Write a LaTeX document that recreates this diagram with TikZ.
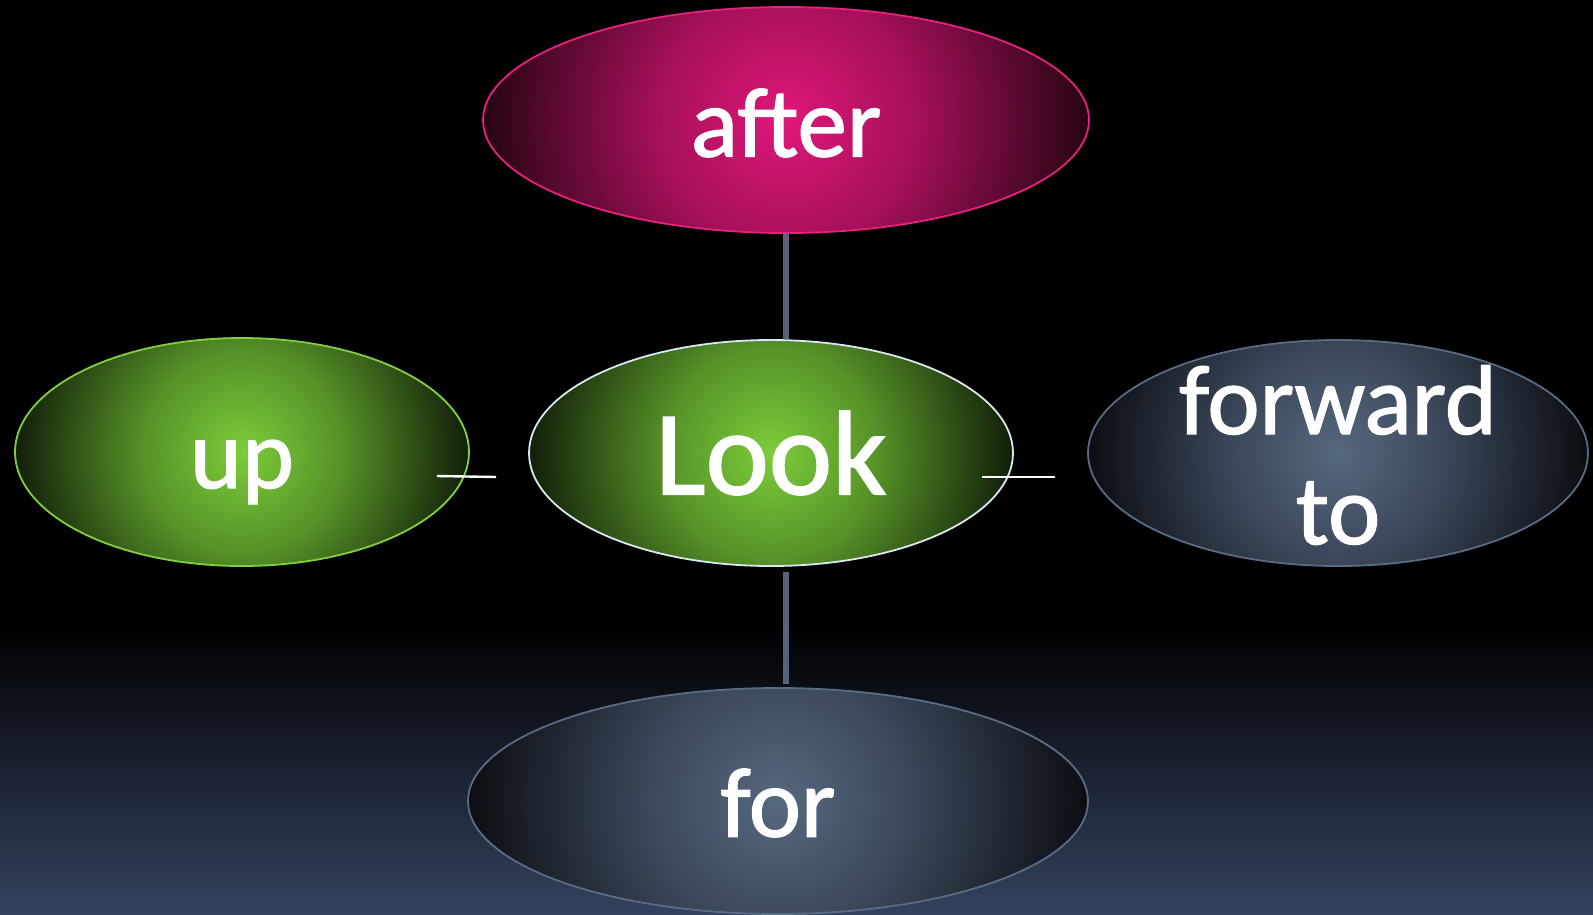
\documentclass[tikz,border=0pt]{standalone}
\usepackage{fontspec}
\setmainfont{Carlito}[FakeBold=1.3]
\usetikzlibrary{shapes.geometric}
\definecolor{bgbot}{HTML}{34425F}
\definecolor{pinkb}{HTML}{E8207F}
\definecolor{greenb}{HTML}{80D040}
\definecolor{lookb}{HTML}{D8E8F0}
\definecolor{slateb}{HTML}{5A6C85}
\definecolor{conn}{HTML}{56647A}
\definecolor{pinkc}{HTML}{E0177A}
\definecolor{pinkm}{HTML}{A31058}
\definecolor{pinke}{HTML}{260412}
\definecolor{greenc}{HTML}{7CCC3A}
\definecolor{greenm}{HTML}{569228}
\definecolor{greene}{HTML}{121E09}
\definecolor{slatec}{HTML}{56687F}
\definecolor{slatem}{HTML}{3A4658}
\definecolor{slatee}{HTML}{0B0D11}
\pgfdeclareradialshading{pinkshade}{\pgfpoint{0bp}{0bp}}{%
  color(0bp)=(pinkc); color(11bp)=(pinkm); color(25bp)=(pinke); color(50bp)=(pinke)}
\pgfdeclareradialshading{greenshade}{\pgfpoint{0bp}{0bp}}{%
  color(0bp)=(greenc); color(11bp)=(greenm); color(25bp)=(greene); color(50bp)=(greene)}
\pgfdeclareradialshading{slateshade}{\pgfpoint{0bp}{0bp}}{%
  color(0bp)=(slatec); color(11bp)=(slatem); color(25bp)=(slatee); color(50bp)=(slatee)}
\tikzset{
  bubble/.style 2 args={ellipse, inner sep=0pt, line width=1.8pt,
    path picture={\shade[shading=#1] (path picture bounding box.center) circle[radius=#2];}},
  lbl/.style={inner sep=0pt, text=white, align=center, font=\fontsize{99}{112}\selectfont},
  vconn/.style={draw=conn, line width=6pt},
  hconn/.style={draw=white, line width=2.4pt}
}
\begin{document}
\begin{tikzpicture}[x=1pt,y=-1pt]
\useasboundingbox (0,0) rectangle (1593,914);
\fill[black] (0,0) rectangle (1593,625);
\shade[top color=black, bottom color=bgbot] (0,624) rectangle (1593,914);

\node[bubble={pinkshade}{303pt}, draw=pinkb, minimum width=606pt, minimum height=226pt] (after) at (786,120) {};
\node[bubble={greenshade}{242pt}, draw=lookb, minimum width=484pt, minimum height=226pt] (look) at (771,453) {};
\node[bubble={greenshade}{227pt}, draw=greenb, minimum width=454pt, minimum height=228pt] (up) at (242,452) {};
\node[bubble={slateshade}{250pt}, draw=slateb, minimum width=500pt, minimum height=226pt] (fwd) at (1338,453) {};
\node[bubble={slateshade}{310pt}, draw=slateb, minimum width=620pt, minimum height=226pt] (for) at (778,801) {};

\node[lbl] (aftert) at (786,123) {after};
\node[lbl, font=\fontsize{120}{130}\selectfont] (lookt) at (771,453) {Look};
\node[lbl] (upt) at (242,472) {up};
\node[lbl] (fwdt) at (1338,455) {forward\\[-2pt]to};
\node[lbl] (fort) at (778,803) {for};

\draw[vconn] (after.south) -- (after.south |- look.north);
\draw[vconn, shorten <=5pt, shorten >=3pt] (after.south |- look.south) -- (after.south |- for.north);
\draw[hconn] ([shift={(-33,24)}]up.east) -- ([shift={(-32,24)}]look.west);
\draw[hconn] ([shift={(-32,24)}]look.east) -- ([shift={(-32,24)}]fwd.west);
\end{tikzpicture}
\end{document}
